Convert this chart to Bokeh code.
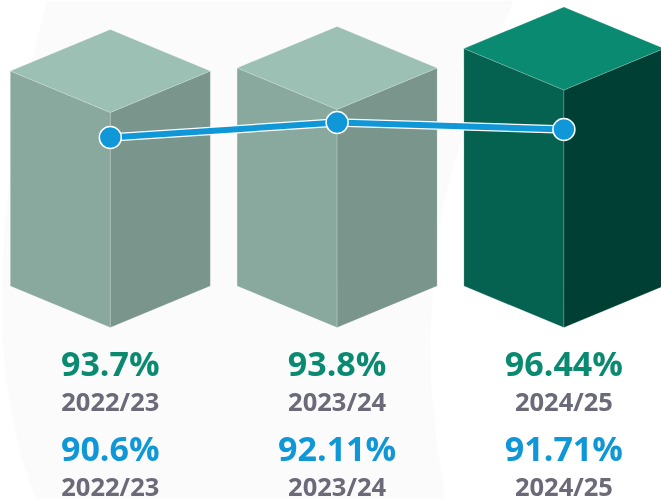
from bokeh.plotting import figure
from bokeh.embed import file_html
from bokeh.resources import INLINE
from bokeh.core.properties import value

years = ["2022/23", "2023/24", "2024/25"]
bar_heights = [93.7, 94.07, 96.44]
line_values = [90.65, 92.48, 91.63]
bar_labels = ["93.7%", "93.8%", "96.44%"]
line_labels = ["90.6%", "92.11%", "91.71%"]
top_colors = ["#9CC1B4", "#9CC1B4", "#0B8A72"]
left_colors = ["#89A89E", "#89A89E", "#056250"]
right_colors = ["#7A958C", "#7A958C", "#003F33"]

W, H = 661, 499
UX = 226.8   # px per category
UY = 8.21    # px per percentage point
x0 = -109.8 / UX
y_top = 93.7 + 112 / UY
p = figure(width=W, height=H, output_backend="svg", toolbar_location=None,
           x_range=(x0, x0 + W / UX), y_range=(y_top - H / UY, y_top),
           min_border=0, outline_line_color=None, background_fill_color="white",
           border_fill_color="white",
           styles={"position": "fixed", "left": "0px", "top": "0px"})
p.axis.visible = False
p.grid.visible = False

px = lambda v: x0 + v / UX
py = lambda v: y_top - v / UY

# pale backdrop shape
bx = [47, 36, 26, 16, 9, 4, 1, 2, 5, 10, 20, 35, 445, 436, 431, 430, 433, 440, 450, 463, 480, 497, 513]
by = [0, 40, 80, 130, 180, 230, 290, 340, 375, 407, 455, 499, 499, 440, 390, 340, 275, 217, 175, 133, 85, 40, 0]
p.patch([px(v) for v in bx], [py(v) for v in by], fill_color="#FBFBFB", line_color=None)

hw = 100 / UX       # half width of a block
slant = 41.5 / UY   # fall of the top faces
base = 93.7 - (327 - 112) / UY

for i, h in enumerate(bar_heights):
    p.patch([i, i - hw, i - hw, i], [h, h + slant, base + slant, base],
            fill_color=left_colors[i], line_color="white", line_alpha=0.25, line_width=0.7)
    p.patch([i, i + hw, i + hw, i], [h, h + slant, base + slant, base],
            fill_color=right_colors[i], line_color="white", line_alpha=0.25, line_width=0.7)
    p.patch([i, i - hw, i, i + hw], [h, h + slant, h + 2 * slant, h + slant],
            fill_color=top_colors[i], line_color="white", line_alpha=0.25, line_width=0.7)

xs = list(range(3))
p.line(xs, line_values, line_color="white", line_width=8.5)
p.line(xs, line_values, line_color="#0F97D8", line_width=6)
p.scatter(xs, line_values, size=22, fill_color="#0F97D8", line_color="white", line_width=1.5)

def label(texts, y_px, color, size, weight):
    p.text(xs, [py(y_px)] * 3, text=texts, text_align="center", text_baseline="middle",
           text_color=color, text_font=value("Open Sans"), text_font_size=size,
           text_font_style=weight)

label(bar_labels, 362.5, "#0B8A72", "34px", "bold")
label(years, 400, "#6A6A78", "25.5px", "bold")
label(line_labels, 447.5, "#0F97D8", "34px", "bold")
label(years, 485, "#6A6A78", "25.5px", "bold")

open("out.html", "w").write(file_html(p, INLINE))
